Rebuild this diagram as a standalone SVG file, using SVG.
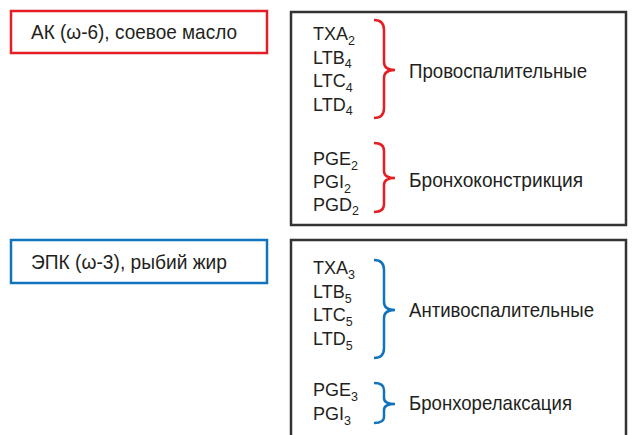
<svg xmlns="http://www.w3.org/2000/svg" width="632" height="435" viewBox="0 0 632 435">
<style>
text{font-family:"Liberation Sans Narrow","Liberation Sans",Arial,sans-serif;fill:#231f20;}
.lbl{font-size:21px;}
.chem{font-size:18px;}
.sub{font-size:12.5px;}
.box{fill:none;stroke:#333;stroke-width:2.5;}
.red{fill:none;stroke:#e31e24;stroke-width:2.5;}
.blue{fill:none;stroke:#1273bd;stroke-width:2.5;}
</style>
<rect width="632" height="435" fill="#fff"/>
<g id="src-ak">
<rect x="11" y="11" width="256" height="42" fill="#fff" stroke="#e31e24" stroke-width="2.5"/>
<text class="lbl" x="31" y="39" textLength="206" lengthAdjust="spacingAndGlyphs">АК (ω-6), соевое масло</text>
</g>
<g id="src-epk">
<rect x="11" y="240" width="256" height="43" fill="#fff" stroke="#1273bd" stroke-width="2.5"/>
<text class="lbl" x="31" y="269" textLength="196" lengthAdjust="spacingAndGlyphs">ЭПК (ω-3), рыбий жир</text>
</g>
<g id="box-omega6">
<rect class="box" x="291" y="12" width="335" height="213"/>
<text class="chem" x="313" y="40">TXA<tspan class="sub" dy="4.5">2</tspan></text>
<text class="chem" x="313" y="63.5">LTB<tspan class="sub" dy="4.5">4</tspan></text>
<text class="chem" x="313" y="87">LTC<tspan class="sub" dy="4.5">4</tspan></text>
<text class="chem" x="313" y="110.5">LTD<tspan class="sub" dy="4.5">4</tspan></text>
<path class="red" d="M374,20 Q384,20 384,30 L384,62 Q384,70 395,70 Q384,70 384,78 L384,108 Q384,118 374,118"/>
<text class="lbl" x="409" y="78" textLength="178" lengthAdjust="spacingAndGlyphs">Провоспалительные</text>
<text class="chem" x="313" y="165">PGE<tspan class="sub" dy="4.5">2</tspan></text>
<text class="chem" x="313" y="188">PGI<tspan class="sub" dy="4.5">2</tspan></text>
<text class="chem" x="313" y="210.5">PGD<tspan class="sub" dy="4.5">2</tspan></text>
<path class="red" d="M374,143 Q384,143 384,151 L384,171 Q384,178 395,178 Q384,178 384,185 L384,204 Q384,212 374,212"/>
<text class="lbl" x="409" y="187" textLength="174" lengthAdjust="spacingAndGlyphs">Бронхоконстрикция</text>
</g>
<g id="box-omega3">
<rect class="box" x="291" y="240" width="335" height="200"/>
<text class="chem" x="313" y="274">TXA<tspan class="sub" dy="4.5">3</tspan></text>
<text class="chem" x="313" y="298">LTB<tspan class="sub" dy="4.5">5</tspan></text>
<text class="chem" x="313" y="321">LTC<tspan class="sub" dy="4.5">5</tspan></text>
<text class="chem" x="313" y="345">LTD<tspan class="sub" dy="4.5">5</tspan></text>
<path class="blue" d="M374,260 Q384,260 384,270 L384,302 Q384,310 395,310 Q384,310 384,318 L384,348 Q384,358 374,358"/>
<text class="lbl" x="409" y="317" textLength="185" lengthAdjust="spacingAndGlyphs">Антивоспалительные</text>
<text class="chem" x="313" y="396">PGE<tspan class="sub" dy="4.5">3</tspan></text>
<text class="chem" x="313" y="420">PGI<tspan class="sub" dy="4.5">3</tspan></text>
<path class="blue" d="M374,383 Q384,383 384,390 L384,398 Q384,404 395,404 Q384,404 384,410 L384,417 Q384,423 374,423"/>
<text class="lbl" x="409" y="410" textLength="163" lengthAdjust="spacingAndGlyphs">Бронхорелаксация</text>
</g>
</svg>
